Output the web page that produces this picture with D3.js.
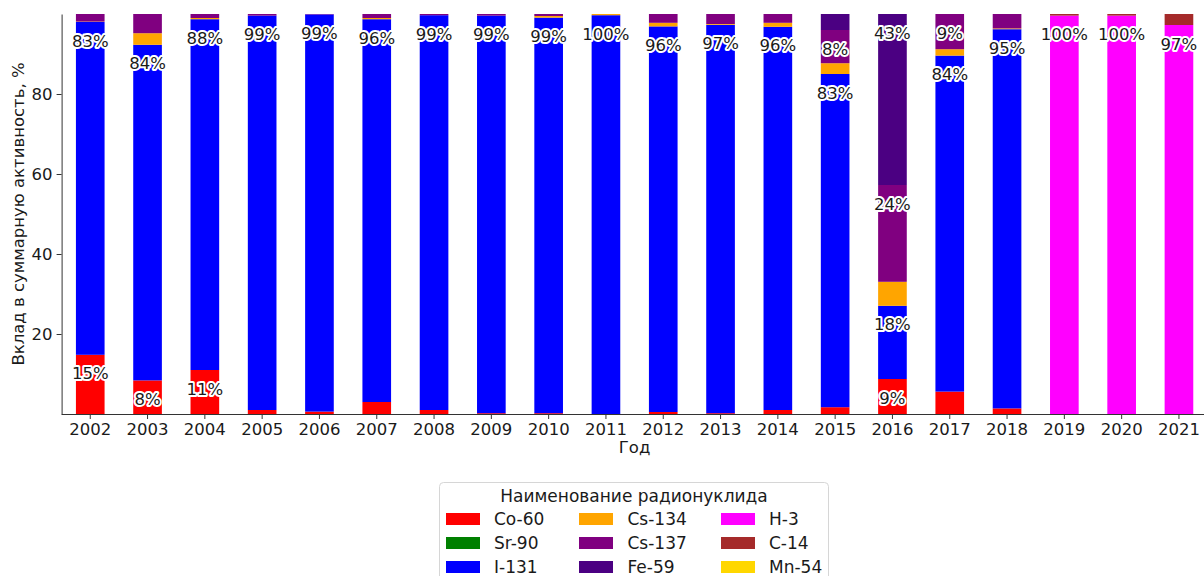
<!DOCTYPE html>
<html>
<head>
<meta charset="utf-8">
<script src="https://cdn.jsdelivr.net/npm/d3@7"></script>
<style>
  html, body { margin: 0; padding: 0; background: #fff; }
  svg { display: block; font-family: "DejaVu Sans", sans-serif; }
</style>
</head>
<body>
<svg id="chart" width="1204" height="576"></svg>
<script>
// Share of each radionuclide in total activity, % per year
const years = ["2002","2003","2004","2005","2006","2007","2008","2009","2010","2011",
               "2012","2013","2014","2015","2016","2017","2018","2019","2020","2021"];

const nuclides = ["Co-60","Sr-90","I-131","Cs-134","Cs-137","Fe-59","H-3","C-14","Mn-54"];
const colors   = ["#ff0000","#008000","#0000ff","#ffa500","#800080","#4b0082","#ff00ff","#a52a2a","#ffd700"];

const co60  = [14.8, 8.4, 11.0, 1.0, 0.6, 3.0, 1.0, 0.2, 0.2, 0.0, 0.5, 0.2, 1.0, 1.7, 8.75, 5.6, 1.4, 0, 0, 0];
const sr90  = [0, 0, 0, 0, 0, 0, 0, 0, 0, 0, 0, 0, 0, 0, 0, 0, 0, 0, 0, 0];
const i131  = [83.2, 83.9, 87.7, 98.6, 99.3, 95.7, 98.7, 99.4, 98.9, 99.7, 96.4, 97.1, 95.8, 83.3, 18.3, 84.0, 94.8, 0, 0, 0];
const cs134 = [0.1, 2.9, 0.3, 0, 0, 0.3, 0, 0, 0.4, 0.3, 0.9, 0.2, 1.0, 2.7, 6.0, 1.6, 0.2, 0, 0, 0];
const cs137 = [1.9, 4.8, 1.0, 0.4, 0.1, 1.0, 0.3, 0.4, 0.5, 0, 2.2, 2.5, 2.2, 8.3, 24.2, 8.8, 3.6, 0, 0, 0];
const fe59  = [0, 0, 0, 0, 0, 0, 0, 0, 0, 0, 0, 0, 0, 4.0, 42.75, 0, 0, 0, 0, 0];
const h3    = [0, 0, 0, 0, 0, 0, 0, 0, 0, 0, 0, 0, 0, 0, 0, 0, 0, 99.6, 99.6, 97.25];
const c14   = [0, 0, 0, 0, 0, 0, 0, 0, 0, 0, 0, 0, 0, 0, 0, 0, 0, 0.4, 0.4, 2.75];
const mn54  = [0, 0, 0, 0, 0, 0, 0, 0, 0, 0, 0, 0, 0, 0, 0, 0, 0, 0, 0, 0];

const yTicks = [20, 40, 60, 80];
const labelMin = 7.5; // segments at least this large get a percentage label

const series = [co60, sr90, i131, cs134, cs137, fe59, h3, c14, mn54];

// Build rows for d3.stack
const rows = years.map((yr, i) => {
  const r = { year: yr };
  nuclides.forEach((n, k) => { r[n] = series[k][i]; });
  return r;
});
const stacked = d3.stack().keys(nuclides)(rows);

const svg = d3.select("#chart");
const plotLeft = 61.6, plotRight = 1207.6, plotTop = 14, plotBottom = 414;

const x = d3.scaleBand().domain(years).range([plotLeft, plotRight])
  .paddingInner(0.5).paddingOuter(0.25);
const y = d3.scaleLinear().domain([0, 100]).range([plotBottom, plotTop]);

// Bars
const g = svg.append("g");
stacked.forEach((layer, k) => {
  g.append("g").attr("fill", colors[k])
    .selectAll("rect").data(layer).join("rect")
    .attr("x", d => x(d.data.year))
    .attr("width", x.bandwidth())
    .attr("y", d => y(d[1]))
    .attr("height", d => Math.max(0, y(d[0]) - y(d[1])));
});

// Percentage labels placed just below each segment's top
const labels = svg.append("g")
  .attr("font-size", 16.5)
  .attr("text-anchor", "middle")
  .attr("dominant-baseline", "central");
stacked.forEach((layer) => {
  layer.forEach(d => {
    const v = d[1] - d[0];
    if (v >= labelMin) {
      labels.append("text")
        .attr("x", x(d.data.year) + x.bandwidth() / 2)
        .attr("y", y(d[1]) + 19)
        .attr("fill", "#1a1a1a")
        .attr("stroke", "#fff")
        .attr("stroke-width", 4)
        .attr("stroke-linejoin", "round")
        .attr("paint-order", "stroke")
        .text(Math.round(v) + "%");
    }
  });
});

// Axes
const xAxis = svg.append("g").attr("transform", `translate(0,${plotBottom})`)
  .call(d3.axisBottom(x).tickSize(5).tickPadding(4).tickSizeOuter(0));
xAxis.select(".domain").attr("stroke", "#333").attr("d", `M${plotLeft},0.5H${plotRight}`);
const yAxis = svg.append("g").attr("transform", `translate(${plotLeft},0)`)
  .call(d3.axisLeft(y).tickValues(yTicks).tickSize(5).tickPadding(4).tickSizeOuter(0));
yAxis.select(".domain").attr("stroke", "#333");
[xAxis, yAxis].forEach(a => {
  a.selectAll(".tick line").attr("stroke", "#333");
  a.selectAll(".tick text").attr("font-size", 16.5).attr("fill", "#1a1a1a")
    .attr("font-family", "DejaVu Sans, sans-serif");
});

// Axis titles
svg.append("text")
  .attr("x", (plotLeft + plotRight) / 2).attr("y", 453)
  .attr("text-anchor", "middle").attr("font-size", 16.5).attr("fill", "#1a1a1a")
  .text("Год");
svg.append("text")
  .attr("transform", `translate(24,${(plotTop + plotBottom) / 2}) rotate(-90)`)
  .attr("text-anchor", "middle").attr("font-size", 16.5).attr("fill", "#1a1a1a")
  .text("Вклад в суммарную активность, %");

// Legend
const lg = svg.append("g");
lg.append("rect")
  .attr("x", 439.5).attr("y", 482.5).attr("width", 389).attr("height", 110)
  .attr("rx", 4).attr("fill", "#fff").attr("stroke", "#d6d6d6");
lg.append("text")
  .attr("x", 634).attr("y", 502).attr("text-anchor", "middle")
  .attr("font-size", 17).attr("fill", "#1a1a1a")
  .text("Наименование радионуклида");
const colPatchX = [446, 579, 721];
const colTextX = [494, 627.5, 769];
const rowY = [519, 543, 567];
nuclides.forEach((n, k) => {
  const c = Math.floor(k / 3), r = k % 3;
  lg.append("rect")
    .attr("x", colPatchX[c]).attr("y", rowY[r] - 6)
    .attr("width", 34).attr("height", 12)
    .attr("fill", colors[k]);
  lg.append("text")
    .attr("x", colTextX[c]).attr("y", rowY[r])
    .attr("dominant-baseline", "central")
    .attr("font-size", 17).attr("fill", "#1a1a1a")
    .text(n);
});
</script>
</body>
</html>
